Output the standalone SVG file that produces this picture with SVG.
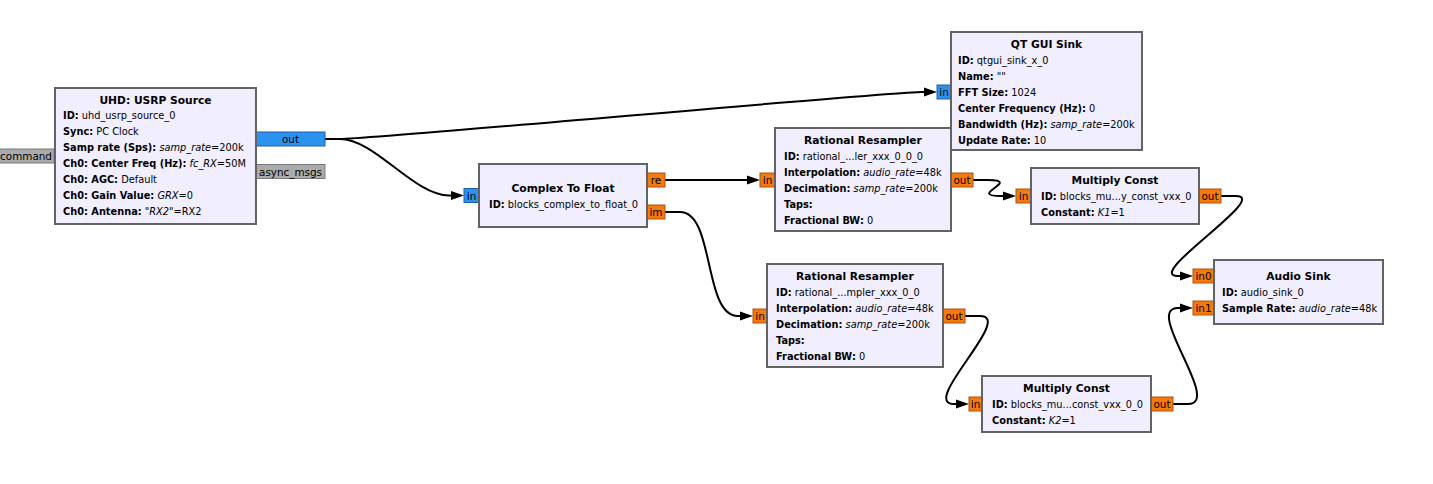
<svg xmlns="http://www.w3.org/2000/svg" width="1433" height="484" viewBox="0 0 1433 484">
  <style>
    text { font-family: "DejaVu Sans", "Liberation Sans", sans-serif; fill: #000; }
    .blk { fill: #F0EEFF; stroke: #636363; stroke-width: 2; }
    .title { font-size: 10.7px; font-weight: bold; text-anchor: middle; }
    .prm { font-size: 9.8px; }
    .prm .k { font-weight: bold; }
    .prm .v { font-style: italic; }
    .pc { fill: #2C92F0; stroke: #1C60A8; stroke-width: 1; }
    .pf { fill: #F57A0C; stroke: #B0501A; stroke-width: 1; }
    .pm { fill: #ABABAB; stroke: #7A7A7A; stroke-width: 1; }
    .pl { font-size: 10.4px; text-anchor: middle; }
    .wire { fill: none; stroke: #000; stroke-width: 2; }
    .arrow { fill: #000; stroke: none; }
  </style>

  <!-- connectors -->
  <g id="connections">
    <path class="wire" d="M325 139 H340 C375 139 887 92 922 92 H926"/>
    <polygon class="arrow" points="937,92 924,87.5 924,96.5"/>
    <path class="wire" d="M325 139 H340 C375 139 414 195.5 449 195.5 H453"/>
    <polygon class="arrow" points="464,195.5 451,191 451,200"/>
    <path class="wire" d="M665 180 H749"/>
    <polygon class="arrow" points="760,180 747,175.5 747,184.5"/>
    <path class="wire" d="M665 212 H680 C715 212 703 316 738 316 H742"/>
    <polygon class="arrow" points="753,316 740,311.5 740,320.5"/>
    <path class="wire" d="M973 180 H988 C1023 180 966 196 1001 196 H1005"/>
    <polygon class="arrow" points="1016,196 1003,191.5 1003,200.5"/>
    <path class="wire" d="M1221 196 H1236 C1271 196 1143 276 1178 276 H1182"/>
    <polygon class="arrow" points="1193,276 1180,271.5 1180,280.5"/>
    <path class="wire" d="M965 316 H980 C1015 316 919 404 954 404 H958"/>
    <polygon class="arrow" points="969,404 956,399.5 956,408.5"/>
    <path class="wire" d="M1173 404 H1188 C1223 404 1143 308 1178 308 H1182"/>
    <polygon class="arrow" points="1193,308 1180,303.5 1180,312.5"/>
  </g>

  <!-- UHD: USRP Source -->
  <g id="uhd_usrp_source_0">
    <rect class="pm" x="-8" y="149" width="62" height="14"/>
    <text class="pl" x="26" y="160">command</text>
    <rect class="pc" x="256" y="132" width="69" height="14"/>
    <text class="pl" x="290.5" y="143">out</text>
    <rect class="pm" x="256" y="164.5" width="69" height="14"/>
    <text class="pl" x="290.5" y="175.5">async_msgs</text>
    <rect class="blk" x="55" y="88" width="201" height="136"/>
    <text class="title" x="155.5" y="104">UHD: USRP Source</text>
    <text class="prm" x="63" y="119"><tspan class="k">ID:</tspan> uhd_usrp_source_0</text>
    <text class="prm" x="63" y="135"><tspan class="k">Sync:</tspan> PC Clock</text>
    <text class="prm" x="63" y="151"><tspan class="k">Samp rate (Sps):</tspan> <tspan class="v">samp_rate</tspan>=200k</text>
    <text class="prm" x="63" y="167"><tspan class="k">Ch0: Center Freq (Hz):</tspan> <tspan class="v">fc_RX</tspan>=50M</text>
    <text class="prm" x="63" y="183"><tspan class="k">Ch0: AGC:</tspan> Default</text>
    <text class="prm" x="63" y="199"><tspan class="k">Ch0: Gain Value:</tspan> <tspan class="v">GRX</tspan>=0</text>
    <text class="prm" x="63" y="215"><tspan class="k">Ch0: Antenna:</tspan> <tspan class="v">"RX2"</tspan>=RX2</text>
  </g>

  <!-- QT GUI Sink -->
  <g id="qtgui_sink_x_0">
    <rect class="pc" x="937" y="85" width="14" height="14"/>
    <text class="pl" x="944" y="96">in</text>
    <rect class="blk" x="951" y="32" width="191" height="118"/>
    <text class="title" x="1046.5" y="48">QT GUI Sink</text>
    <text class="prm" x="958" y="63.5"><tspan class="k">ID:</tspan> qtgui_sink_x_0</text>
    <text class="prm" x="958" y="79.5"><tspan class="k">Name:</tspan> ""</text>
    <text class="prm" x="958" y="95.5"><tspan class="k">FFT Size:</tspan> 1024</text>
    <text class="prm" x="958" y="111.5"><tspan class="k">Center Frequency (Hz):</tspan> 0</text>
    <text class="prm" x="958" y="127.5"><tspan class="k">Bandwidth (Hz):</tspan> <tspan class="v">samp_rate</tspan>=200k</text>
    <text class="prm" x="958" y="143.5"><tspan class="k">Update Rate:</tspan> 10</text>
  </g>

  <!-- Complex To Float -->
  <g id="blocks_complex_to_float_0">
    <rect class="pc" x="464" y="188.5" width="15" height="14"/>
    <text class="pl" x="471.5" y="199.5">in</text>
    <rect class="pf" x="647" y="173" width="18" height="14"/>
    <text class="pl" x="656" y="184">re</text>
    <rect class="pf" x="647" y="205" width="18" height="14"/>
    <text class="pl" x="656" y="216">im</text>
    <rect class="blk" x="479" y="164" width="168" height="63"/>
    <text class="title" x="563" y="191.5">Complex To Float</text>
    <text class="prm" x="489" y="207.5"><tspan class="k">ID:</tspan> blocks_complex_to_float_0</text>
  </g>

  <!-- Rational Resampler (re branch) -->
  <g id="rational_resampler_xxx_0_0_0">
    <rect class="pf" x="760" y="173" width="15" height="14"/>
    <text class="pl" x="767.5" y="184">in</text>
    <rect class="pf" x="951" y="173" width="22" height="14"/>
    <text class="pl" x="962" y="184">out</text>
    <rect class="blk" x="775" y="128" width="176" height="103"/>
    <text class="title" x="863" y="144">Rational Resampler</text>
    <text class="prm" x="784" y="160"><tspan class="k">ID:</tspan> rational_...ler_xxx_0_0_0</text>
    <text class="prm" x="784" y="176"><tspan class="k">Interpolation:</tspan> <tspan class="v">audio_rate</tspan>=48k</text>
    <text class="prm" x="784" y="192"><tspan class="k">Decimation:</tspan> <tspan class="v">samp_rate</tspan>=200k</text>
    <text class="prm" x="784" y="208"><tspan class="k">Taps:</tspan></text>
    <text class="prm" x="784" y="224"><tspan class="k">Fractional BW:</tspan> 0</text>
  </g>

  <!-- Rational Resampler (im branch) -->
  <g id="rational_resampler_xxx_0_0">
    <rect class="pf" x="753" y="309" width="14" height="14"/>
    <text class="pl" x="760" y="320">in</text>
    <rect class="pf" x="943" y="309" width="22" height="14"/>
    <text class="pl" x="954" y="320">out</text>
    <rect class="blk" x="767" y="264" width="176" height="103"/>
    <text class="title" x="855" y="280">Rational Resampler</text>
    <text class="prm" x="776" y="296"><tspan class="k">ID:</tspan> rational_...mpler_xxx_0_0</text>
    <text class="prm" x="776" y="312"><tspan class="k">Interpolation:</tspan> <tspan class="v">audio_rate</tspan>=48k</text>
    <text class="prm" x="776" y="328"><tspan class="k">Decimation:</tspan> <tspan class="v">samp_rate</tspan>=200k</text>
    <text class="prm" x="776" y="344"><tspan class="k">Taps:</tspan></text>
    <text class="prm" x="776" y="360"><tspan class="k">Fractional BW:</tspan> 0</text>
  </g>

  <!-- Multiply Const K1 -->
  <g id="blocks_multiply_const_vxx_0">
    <rect class="pf" x="1016" y="189" width="15" height="14"/>
    <text class="pl" x="1023.5" y="200">in</text>
    <rect class="pf" x="1199" y="189" width="22" height="14"/>
    <text class="pl" x="1210" y="200">out</text>
    <rect class="blk" x="1031" y="168" width="168" height="56"/>
    <text class="title" x="1115" y="184">Multiply Const</text>
    <text class="prm" x="1041" y="200"><tspan class="k">ID:</tspan> blocks_mu...y_const_vxx_0</text>
    <text class="prm" x="1041" y="216"><tspan class="k">Constant:</tspan> <tspan class="v">K1</tspan>=1</text>
  </g>

  <!-- Multiply Const K2 -->
  <g id="blocks_multiply_const_vxx_0_0">
    <rect class="pf" x="969" y="397" width="13" height="14"/>
    <text class="pl" x="975.5" y="408">in</text>
    <rect class="pf" x="1151" y="397" width="22" height="14"/>
    <text class="pl" x="1162" y="408">out</text>
    <rect class="blk" x="982" y="376" width="169" height="56"/>
    <text class="title" x="1066.5" y="392">Multiply Const</text>
    <text class="prm" x="992" y="408"><tspan class="k">ID:</tspan> blocks_mu...const_vxx_0_0</text>
    <text class="prm" x="992" y="424"><tspan class="k">Constant:</tspan> <tspan class="v">K2</tspan>=1</text>
  </g>

  <!-- Audio Sink -->
  <g id="audio_sink_0">
    <rect class="pf" x="1193" y="269" width="21" height="14"/>
    <text class="pl" x="1203.5" y="280">in0</text>
    <rect class="pf" x="1193" y="301" width="21" height="14"/>
    <text class="pl" x="1203.5" y="312">in1</text>
    <rect class="blk" x="1214" y="260" width="169" height="64"/>
    <text class="title" x="1298.5" y="280">Audio Sink</text>
    <text class="prm" x="1222" y="296"><tspan class="k">ID:</tspan> audio_sink_0</text>
    <text class="prm" x="1222" y="312"><tspan class="k">Sample Rate:</tspan> <tspan class="v">audio_rate</tspan>=48k</text>
  </g>
</svg>
